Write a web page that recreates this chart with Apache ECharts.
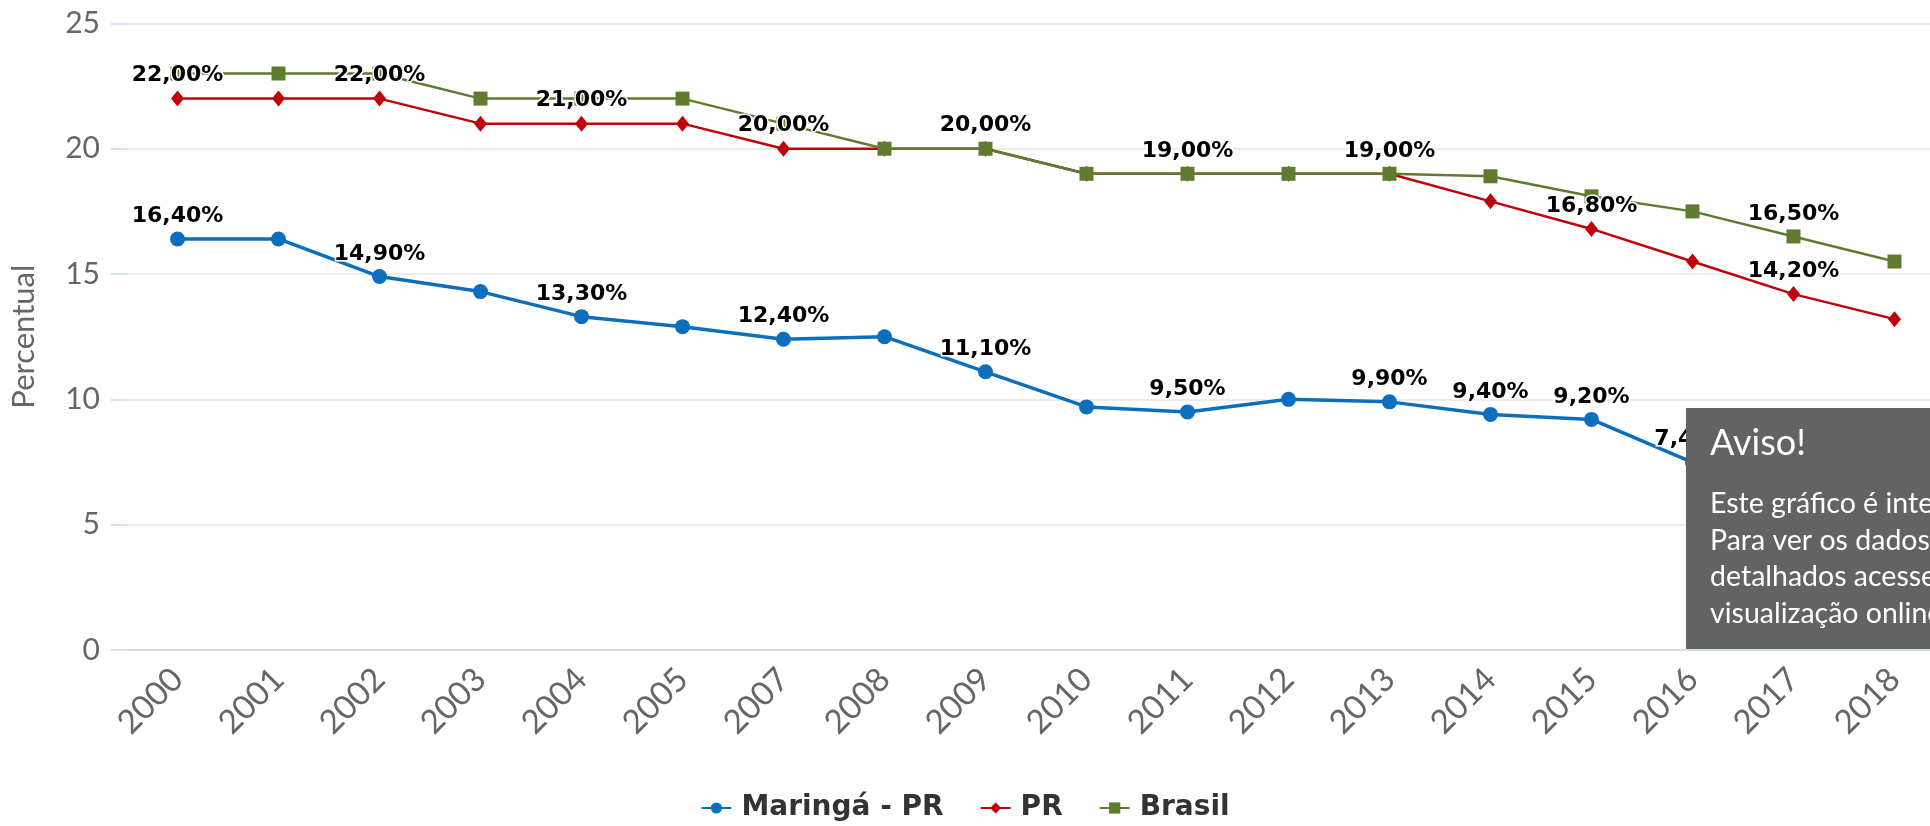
<!DOCTYPE html>
<html>
<head>
<meta charset="utf-8">
<script src="https://cdn.jsdelivr.net/npm/echarts@6/dist/echarts.min.js"></script>
<style>
  html, body { margin: 0; padding: 0; background: #fff; }
  #chart-container { width: 1930px; height: 826px; }
</style>
</head>
<body>
<div id="chart-container"></div>
<script>
// anos (2006 não aparece no gráfico)
const categories = ['2000', '2001', '2002', '2003', '2004', '2005', '2007', '2008', '2009',
  '2010', '2011', '2012', '2013', '2014', '2015', '2016', '2017', '2018'];

const maringa = [16.4, 16.4, 14.9, 14.3, 13.3, 12.9, 12.4, 12.5, 11.1, 9.7, 9.5, 10.0, 9.9, 9.4, 9.2, 7.49, 7.0, 6.6];
const pr = [22, 22, 22, 21, 21, 21, 20, 20, 20, 19, 19, 19, 19, 17.9, 16.8, 15.5, 14.2, 13.2];
const brasil = [23, 23, 23, 22, 22, 22, 21, 20, 20, 19, 19, 19, 19, 18.9, 18.1, 17.5, 16.5, 15.5];

// pontos com rótulo visível (os outros ficam escondidos por sobreposição)
const maringaLabelIdx = [0, 2, 4, 6, 8, 10, 12, 13, 14, 15];
const prLabelIdx = [0, 2, 4, 6, 8, 10, 12, 14, 16];
const brasilLabelIdx = [16];

const yTicks = { min: 0, max: 25, interval: 5 };

const FONT = 'Lato';
const BOLD_FONT = 'DejaVu Sans';
const COLORS = { maringa: '#0b6fbd', pr: '#c0000a', brasil: '#5f7b2f' };

var chartDom = document.getElementById('chart-container');
var myChart = echarts.init(chartDom);

const fmt = (v) => v.toFixed(2).replace('.', ',') + '%';

const toData = (values, idx) => values.map((v, i) => ({
  value: v,
  label: { show: idx.includes(i) }
}));

const labelStyle = {
  position: 'top',
  distance: 4,
  color: '#000',
  fontFamily: BOLD_FONT,
  fontWeight: 'bold',
  fontSize: 22,
  textBorderColor: '#fff',
  textBorderWidth: 3,
  formatter: (p) => fmt(p.value)
};

var option = {
  animation: false,
  textStyle: { fontFamily: FONT },
  // o gráfico original é cortado à direita, por isso a grade passa da borda
  grid: { left: 127, width: 1818, top: 23.4, bottom: 176, outerBoundsMode: 'none' },
  legend: {
    top: 789,
    left: 'center',
    itemWidth: 30,
    itemHeight: 14,
    itemGap: 36,
    textStyle: { fontFamily: BOLD_FONT, fontWeight: 'bold', fontSize: 28, color: '#333', padding: [0, 0, 0, 5] },
    data: ['Maringá - PR', 'PR', 'Brasil']
  },
  xAxis: {
    type: 'category',
    data: categories,
    boundaryGap: true,
    axisLine: { lineStyle: { color: '#ccd6eb', width: 1.5 } },
    axisTick: { length: 17, lineStyle: { color: '#ccd6eb', width: 1.5 } },
    axisLabel: { rotate: 45, margin: 24, color: '#666', fontSize: 33, fontFamily: FONT }
  },
  yAxis: {
    type: 'value',
    min: yTicks.min,
    max: yTicks.max,
    interval: yTicks.interval,
    name: 'Percentual',
    nameLocation: 'middle',
    nameGap: 88,
    nameTextStyle: { color: '#666', fontSize: 31, fontFamily: FONT },
    axisLine: { show: false },
    axisTick: { show: true, length: 16, lineStyle: { color: '#ccd6eb', width: 1.5 } },
    axisLabel: { margin: 27, color: '#666', fontSize: 30, fontFamily: FONT },
    splitLine: { lineStyle: { color: '#e6e6e6', width: 1.5 } }
  },
  series: [
    {
      name: 'Maringá - PR',
      type: 'line',
      data: toData(maringa, maringaLabelIdx),
      color: COLORS.maringa,
      symbol: 'circle',
      symbolSize: 15,
      lineStyle: { width: 3.5 },
      label: labelStyle
    },
    {
      name: 'PR',
      type: 'line',
      data: toData(pr, prLabelIdx),
      color: COLORS.pr,
      symbol: 'diamond',
      symbolSize: [13, 16],
      lineStyle: { width: 2.5 },
      label: labelStyle
    },
    {
      name: 'Brasil',
      type: 'line',
      data: toData(brasil, brasilLabelIdx),
      color: COLORS.brasil,
      symbol: 'rect',
      symbolSize: 14,
      lineStyle: { width: 2.5 },
      label: labelStyle
    }
  ],
  graphic: [
    {
      type: 'rect',
      left: 1686, top: 408,
      z: 100,
      shape: { width: 300, height: 241 },
      style: { fill: '#636363' }
    },
    {
      type: 'text',
      left: 1710, top: 425,
      z: 101,
      style: { text: 'Aviso!', fill: '#fff', font: '36px Lato' }
    },
    {
      type: 'text',
      left: 1710, top: 486,
      z: 101,
      style: {
        text: 'Este gráfico é interativo.\nPara ver os dados\ndetalhados acesse a\nvisualização online.',
        fill: '#fff',
        font: '28.5px Lato',
        lineHeight: 36.5
      }
    }
  ]
};

myChart.setOption(option);
</script>
</body>
</html>
